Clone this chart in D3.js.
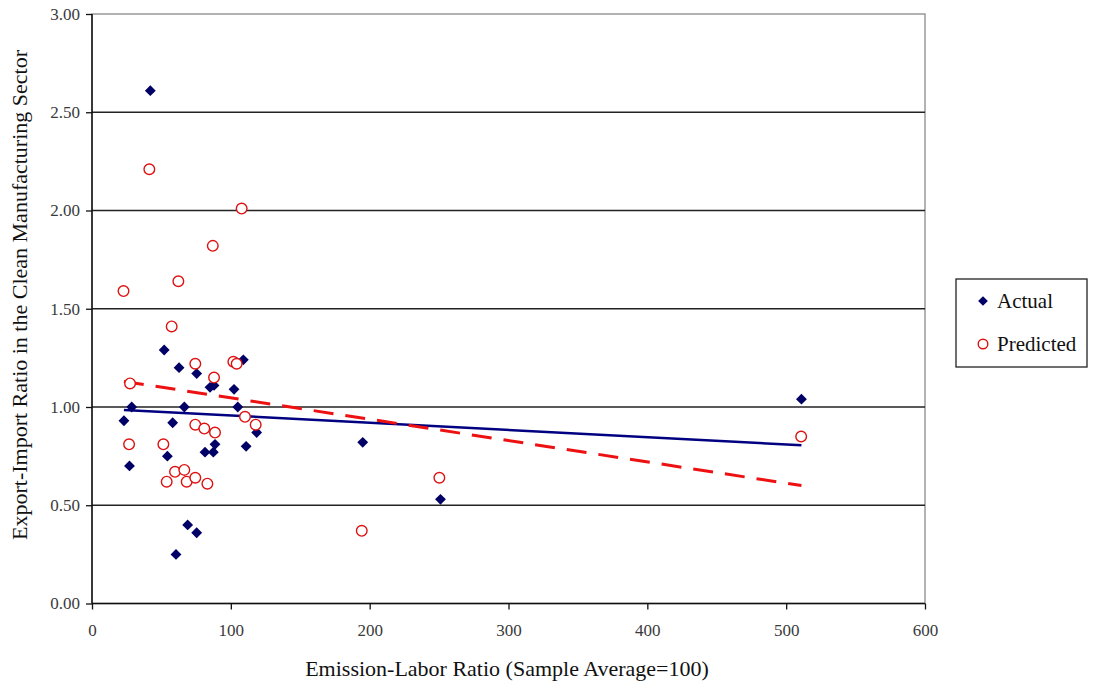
<!DOCTYPE html>
<html>
<head>
<meta charset="utf-8">
<script src="https://cdn.jsdelivr.net/npm/d3@7"></script>
<style>
  body { margin: 0; background: #fff; }
  svg { display: block; }
  svg text { font-family: "Liberation Serif", "Times New Roman", Times, "DejaVu Serif", serif !important; }
</style>
</head>
<body>
<div id="chart"></div>
<script>
// actual values (diamonds)
const actualX = [23, 27, 28.6, 42, 52, 54.3, 58.1, 60.5, 62.7, 66.5, 68.9, 75.4, 75.4, 81.4, 85, 87.9, 88.6, 87.4, 102.3, 105, 109, 111, 118.6, 195, 251, 511];
const actualY = [0.93, 0.70, 1.00, 2.61, 1.29, 0.75, 0.92, 0.25, 1.20, 1.00, 0.40, 1.17, 0.36, 0.77, 1.10, 1.11, 0.81, 0.77, 1.09, 1.00, 1.24, 0.80, 0.87, 0.82, 0.53, 1.04];

// predicted values (circles)
const predX = [22.7, 26.7, 27.4, 41.3, 51.4, 53.8, 57.4, 59.8, 62.2, 66.5, 68.2, 74.4, 74.4, 74.4, 80.9, 83.1, 87, 87.9, 88.6, 101.8, 104.2, 107.8, 110.2, 117.9, 194.3, 250.2, 510.8];
const predY = [1.59, 0.81, 1.12, 2.21, 0.81, 0.62, 1.41, 0.67, 1.64, 0.68, 0.62, 1.22, 0.64, 0.91, 0.89, 0.61, 1.82, 1.15, 0.87, 1.23, 1.22, 2.01, 0.95, 0.91, 0.37, 0.64, 0.85];

// trend line end points
const trendActual = [[23, 0.985], [511, 0.805]];
const trendPred = [[23, 1.13], [511, 0.60]];

const xTicks = [0, 100, 200, 300, 400, 500, 600];
const yTicks = [0, 0.5, 1, 1.5, 2, 2.5, 3];
const legendLabels = ["Actual", "Predicted"];

const W = 1094, H = 684;
const margin = { top: 14, left: 92, right: 169, bottom: 80.5 };
const width = W - margin.left - margin.right;
const height = H - margin.top - margin.bottom;

const svg = d3.select("#chart").append("svg").attr("width", W).attr("height", H);
const g = svg.append("g").attr("transform", `translate(${margin.left},${margin.top})`);

const x = d3.scaleLinear().domain([0, 600]).range([0, width]);
const y = d3.scaleLinear().domain([0, 3]).range([height, 0]);

// plot frame (grey top/right)
g.append("rect")
    .attr("x", 0).attr("y", 0).attr("width", width).attr("height", height)
    .attr("fill", "none").attr("stroke", "#999").attr("stroke-width", 1.5);

// horizontal grid
g.append("g")
    .selectAll("line")
    .data(yTicks.filter(d => d > 0 && d < 3))
    .join("line")
    .attr("x1", 0).attr("x2", width)
    .attr("y1", d => y(d)).attr("y2", d => y(d))
    .attr("stroke", "#222").attr("stroke-width", 1.5);

// axes
const gx = g.append("g")
    .attr("transform", `translate(0,${height})`)
    .call(d3.axisBottom(x).tickValues(xTicks).tickSize(6).tickPadding(14).tickFormat(d3.format("d")));
const gy = g.append("g")
    .call(d3.axisLeft(y).tickValues(yTicks).tickSize(6).tickPadding(6).tickFormat(d3.format(".2f")));

[gx, gy].forEach(a => {
    a.attr("font-family", null);
    a.select(".domain").attr("stroke", "#111").attr("stroke-width", 1.5);
    a.selectAll(".tick line").attr("stroke", "#111").attr("stroke-width", 1.3);
    a.selectAll(".tick text").attr("fill", "#3a3a3a").style("font-size", "17px");
});
gx.select(".domain").attr("d", `M0,0H${width}`);
gy.select(".domain").attr("d", `M0,${height}V0`);

// trend lines
const line = d3.line().x(d => x(d[0])).y(d => y(d[1]));
g.append("path").datum(trendActual).attr("d", line)
    .attr("fill", "none").attr("stroke", "#000080").attr("stroke-width", 2.5);
g.append("path").datum(trendPred).attr("d", line)
    .attr("fill", "none").attr("stroke", "#ee1111").attr("stroke-width", 3)
    .attr("stroke-dasharray", "20,12");

// markers
const diamond = d3.symbol().type(d3.symbolDiamond2).size(75);
g.append("g").selectAll("path")
    .data(actualX.map((v, i) => [v, actualY[i]]))
    .join("path")
    .attr("d", diamond)
    .attr("transform", d => `translate(${x(d[0])},${y(d[1])})`)
    .attr("fill", "#000066");

g.append("g").selectAll("circle")
    .data(predX.map((v, i) => [v, predY[i]]))
    .join("circle")
    .attr("cx", d => x(d[0])).attr("cy", d => y(d[1]))
    .attr("r", 5.3)
    .attr("fill", "#fff").attr("stroke", "#dd1111").attr("stroke-width", 1.4);

// axis titles
svg.append("text")
    .attr("x", 507).attr("y", 676)
    .attr("text-anchor", "middle").style("font-size", "22px").attr("fill", "#111")
    .text("Emission-Labor Ratio (Sample Average=100)");
svg.append("text")
    .attr("transform", `translate(27,295) rotate(-90)`)
    .attr("text-anchor", "middle").style("font-size", "22px").attr("fill", "#111")
    .text("Export-Import Ratio in the Clean Manufacturing Sector");

// legend
const lg = svg.append("g").attr("transform", "translate(956,279)");
lg.append("rect").attr("width", 131).attr("height", 88)
    .attr("fill", "#fff").attr("stroke", "#222").attr("stroke-width", 1.3);
legendLabels.forEach((label, i) => {
    const cy = 22 + i * 43;
    if (i === 0) {
        lg.append("path").attr("d", d3.symbol().type(d3.symbolDiamond2).size(60))
            .attr("transform", `translate(27,${cy})`).attr("fill", "#000066");
    } else {
        lg.append("circle").attr("cx", 27).attr("cy", cy).attr("r", 4.8)
            .attr("fill", "#fff").attr("stroke", "#dd1111").attr("stroke-width", 1.4);
    }
    lg.append("text").attr("x", 41).attr("y", cy + 7)
        .style("font-size", "21px").attr("fill", "#111").text(label);
});
</script>
</body>
</html>
